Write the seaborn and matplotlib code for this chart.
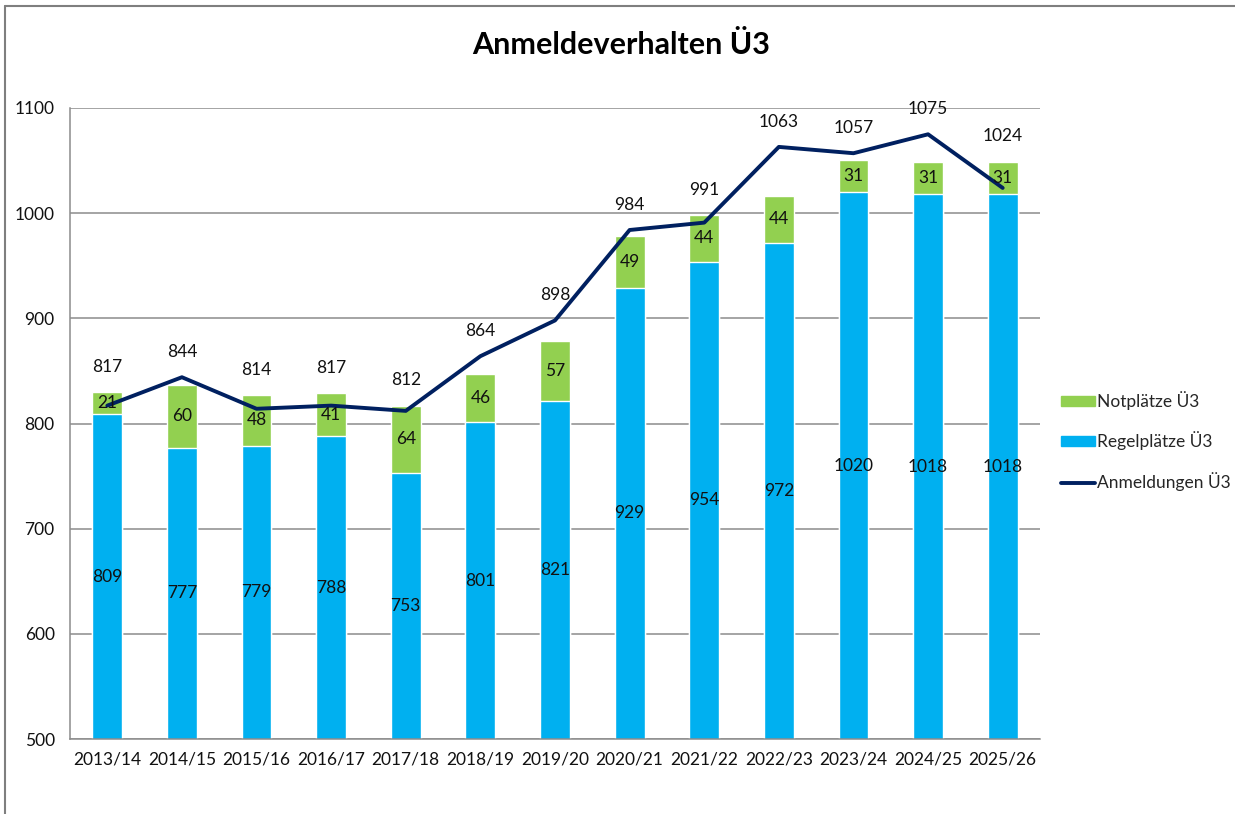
import numpy as np
import pandas as pd
import matplotlib
matplotlib.use("Agg")
import matplotlib.pyplot as plt
import seaborn as sns
from matplotlib.lines import Line2D
from matplotlib.patches import Patch

# data
years = ["2013/14", "2014/15", "2015/16", "2016/17", "2017/18", "2018/19", "2019/20",
         "2020/21", "2021/22", "2022/23", "2023/24", "2024/25", "2025/26"]
regelplaetze = [809, 777, 779, 788, 753, 801, 821, 929, 954, 972, 1020, 1018, 1018]
notplaetze = [21, 60, 48, 41, 64, 46, 57, 49, 44, 44, 31, 31, 31]
anmeldungen = [817, 844, 814, 817, 812, 864, 898, 984, 991, 1063, 1057, 1075, 1024]

BLUE = "#00B0F0"
GREEN = "#92D050"
NAVY = "#002060"
GRID = "#8c8c8c"
FS = 12.5

sns.set_theme(style="white")
plt.rcParams["font.family"] = ["Lato", "DejaVu Sans"]

df = pd.DataFrame({"Jahr": years, "Regel": regelplaetze, "Not": notplaetze,
                   "Anm": anmeldungen})
df["Gesamt"] = df["Regel"] + df["Not"]

fig = plt.figure(figsize=(12.35, 8.14), dpi=100)
ax = fig.add_axes([70 / 1235, 1 - 739 / 814, 970 / 1235, 631 / 814])

sns.barplot(data=df, x="Jahr", y="Gesamt", color=GREEN, width=0.4,
            saturation=1, ax=ax, zorder=2)
sns.barplot(data=df, x="Jahr", y="Regel", color=BLUE, width=0.4,
            saturation=1, ax=ax, zorder=2)
sns.lineplot(data=df, x="Jahr", y="Anm", color=NAVY, linewidth=2.8, sort=False,
             ax=ax, zorder=3)

ax.set_ylim(500, 1100)
ax.set_xlim(-0.5, len(years) - 0.5)
ax.set_yticks(range(500, 1101, 100))
ax.yaxis.grid(True, color=GRID, linewidth=1.1, zorder=0)
ax.set_axisbelow(True)
ax.set_xlabel("")
ax.set_ylabel("")
ax.tick_params(axis="both", length=0, labelsize=FS, colors="#111111")
ax.tick_params(axis="x", pad=9)
ax.tick_params(axis="y", pad=11)
for s in ["top", "right"]:
    ax.spines[s].set_visible(False)
for s in ["left", "bottom"]:
    ax.spines[s].set_color(GRID)
    ax.spines[s].set_linewidth(1.1)

# value labels
for i, row in df.iterrows():
    ax.text(i, (500 + row["Regel"]) / 2, str(row["Regel"]), ha="center",
            va="center", fontsize=FS, color="#111111", zorder=4)
    ax.text(i, row["Regel"] + row["Not"] / 2, str(row["Not"]), ha="center",
            va="center", fontsize=FS, color="#111111", zorder=4)
    top = max(row["Gesamt"], row["Anm"])
    ax.text(i, top + 24, str(row["Anm"]), ha="center", va="center",
            fontsize=FS, color="#111111", zorder=4)

fig.text(621 / 1235, 1 - 45 / 814, "Anmeldeverhalten Ü3", ha="center", va="center",
         fontsize=22, fontweight="bold", color="black")

handles = [Patch(color=GREEN), Patch(color=BLUE), Line2D([], [], color=NAVY, linewidth=2.8)]
labels = ["Notplätze Ü3", "Regelplätze Ü3", "Anmeldungen Ü3"]
fig.legend(handles, labels, loc="center left", bbox_to_anchor=(1045 / 1235, 1 - 441 / 814),
           frameon=False, fontsize=FS, handlelength=2.0, handleheight=0.5,
           handletextpad=0.1, labelspacing=1.25)

# chart frame (left and top edge)
fig.add_artist(Line2D([5 / 1235, 5 / 1235], [0, 1 - 6 / 814], transform=fig.transFigure,
                      color="#7f7f7f", linewidth=1.5))
fig.add_artist(Line2D([5 / 1235, 1], [1 - 6 / 814, 1 - 6 / 814], transform=fig.transFigure,
                      color="#7f7f7f", linewidth=1.5))

fig.savefig("out.png", dpi=100)
